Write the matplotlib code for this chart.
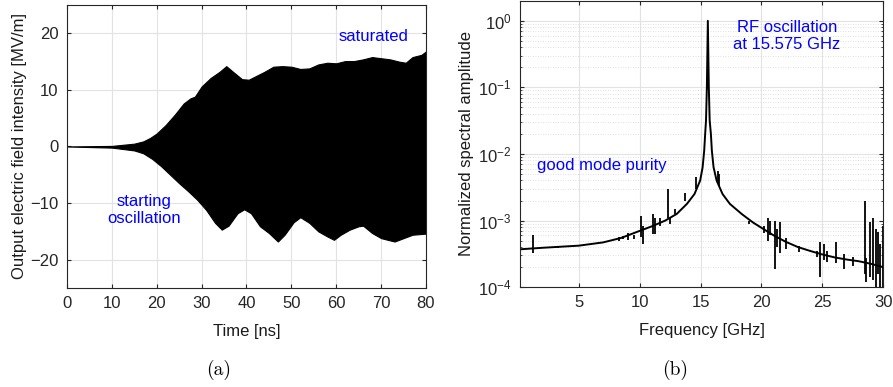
import numpy as np
import matplotlib
matplotlib.use("Agg")
import matplotlib.pyplot as plt
from matplotlib.ticker import LogLocator, NullFormatter

plt.rcParams['font.family'] = ['Liberation Sans', 'DejaVu Sans']
plt.rcParams['mathtext.fontset'] = 'custom'
plt.rcParams['mathtext.rm'] = 'Liberation Sans'
plt.rcParams['mathtext.it'] = 'Liberation Sans:italic'
plt.rcParams['mathtext.bf'] = 'Liberation Sans:bold'

# ---------------- data: panel (a) envelope of output field ----------------
t_upper = [0, 10, 15, 17, 18.5, 20, 22, 24, 26, 27.5, 28.5, 30, 32, 34, 35.5, 37, 39,
           40.5, 42, 44, 46, 48, 50, 52, 54, 56, 58, 60, 62, 64, 66, 68, 70, 72, 74,
           75.5, 77, 79, 80]
e_upper = [0, 0.1, 0.5, 0.9, 1.5, 2.3, 3.8, 5.6, 7.6, 8.5, 8.8, 10.6, 12.1, 13.2, 14.2,
           13.2, 11.9, 11.8, 12.4, 13.2, 14.1, 14.2, 14.1, 13.7, 13.8, 14.5, 14.8, 14.7,
           15.1, 15.1, 15.4, 15.8, 15.6, 15.4, 15.0, 14.8, 15.8, 16.2, 16.8]
t_lower = [0, 10, 15, 17, 19, 21, 23, 25, 27, 29, 31, 33, 34.5, 36, 38, 39.5, 41, 43,
           45, 47, 48.5, 50.5, 52, 54, 56, 58, 59.5, 61, 63, 65, 66, 68, 70, 73, 75,
           77, 80]
e_lower = [0, -0.2, -0.7, -1.2, -2.2, -3.5, -5.0, -6.5, -7.9, -9.4, -11.2, -13.5,
           -14.7, -14.0, -11.8, -11.1, -11.8, -14.1, -15.3, -16.8, -15.6, -13.4, -12.5,
           -13.5, -15.0, -15.9, -16.5, -15.6, -14.7, -14.1, -14.0, -15.3, -16.2, -16.8,
           -16.2, -15.6, -15.4]

# ---------------- data: panel (b) normalized spectrum ----------------
f_base = [0.15, 2, 5, 7, 8.5, 10, 11, 12.1, 13.05, 13.88, 14.5, 14.97, 15.17, 15.3,
          15.38, 15.45, 15.52, 15.6, 15.68, 15.75, 15.85, 15.93, 16.07, 16.32, 16.81,
          17.41, 18.37, 19.33, 20, 21, 22, 23, 24, 25, 26, 27, 28, 29, 30]
a_base = [3.7e-4, 3.9e-4, 4.2e-4, 4.7e-4, 5.5e-4, 7.0e-4, 8.2e-4, 1.0e-3, 1.26e-3,
          1.78e-3, 2.5e-3, 4.0e-3, 6.3e-3, 1.12e-2, 2.0e-2, 3.2e-2, 0.1, 1.0, 0.1,
          3.2e-2, 2.0e-2, 1.12e-2, 6.3e-3, 4.0e-3, 2.5e-3, 1.78e-3, 1.26e-3, 9.3e-4,
          7.8e-4, 6.0e-4, 4.8e-4, 4.0e-4, 3.5e-4, 3.1e-4, 2.8e-4, 2.6e-4, 2.45e-4,
          2.24e-4, 2.0e-4]
# spurious spectral lines: frequency, lower and upper amplitude
f_spur = [1.25, 3.3, 8.3, 8.6, 9.05, 9.5, 10.15, 10.3, 11.1, 11.3, 11.7, 12.3, 12.5,
          12.9, 13.7, 14.65, 16.4, 16.5, 19.0, 20.2, 20.55, 20.7, 21.1, 21.3, 21.55,
          22.0, 23.1, 24.6, 24.8, 25.1, 25.4, 26.1, 26.8, 27.5, 28.5, 28.6, 28.9, 29.2,
          29.4, 29.6, 29.75, 29.95]
a_spur_lo = [3.3e-4, 3.9e-4, 5.0e-4, 5.2e-4, 5.1e-4, 5.3e-4, 5.6e-4, 4.5e-4, 6.3e-4,
             6.3e-4, 8.4e-4, 1.1e-3, 9.0e-4, 1.25e-3, 2.0e-3, 3.0e-3, 3.5e-3, 3.3e-3,
             9.0e-4, 6.5e-4, 5.0e-4, 6.0e-4, 1.9e-4, 4.0e-4, 3.3e-4, 3.8e-4, 3.4e-4,
             2.8e-4, 1.4e-4, 2.6e-4, 2.4e-4, 2.3e-4, 1.9e-4, 2.1e-4, 1.6e-4, 1.2e-4,
             1.4e-4, 1.3e-4, 1.0e-4, 1.6e-4, 1.0e-4, 1.0e-4]
a_spur_hi = [6.0e-4, 4.1e-4, 5.6e-4, 5.9e-4, 6.6e-4, 6.0e-4, 1.18e-3, 8.4e-4, 1.25e-3,
             1.1e-3, 1.1e-3, 3.0e-3, 1.1e-3, 1.5e-3, 2.6e-3, 4.5e-3, 5.6e-3, 5.0e-3,
             1.0e-3, 8.4e-4, 1.1e-3, 1.0e-3, 1.0e-3, 7.5e-4, 9.4e-4, 5.4e-4, 4.2e-4,
             3.5e-4, 4.7e-4, 4.4e-4, 3.5e-4, 4.7e-4, 3.2e-4, 2.8e-4, 2.0e-3, 2.7e-4,
             9.4e-4, 1.1e-3, 7.5e-4, 6.7e-4, 4.5e-4, 8.4e-4]

# ---------------- figure ----------------
fig = plt.figure(figsize=(8.93, 3.87), dpi=100)
axA = fig.add_axes([0.075, 0.256, 0.402, 0.731])
axB = fig.add_axes([0.582, 0.258, 0.407, 0.740])

spine_c = '#262626'
grid_c = '#e3e3e3'
fs = 12

# panel (a)
tt = np.union1d(t_upper, t_lower)
up = np.interp(tt, t_upper, e_upper)
lo = np.interp(tt, t_lower, e_lower)
axA.fill_between(tt, lo, up, color='black', lw=0.8, edgecolor='black')
axA.set_xlim(0, 80)
axA.set_ylim(-25, 25)
axA.set_xticks(np.arange(0, 81, 10))
axA.set_yticks([-20, -10, 0, 10, 20])
axA.grid(True, color=grid_c, lw=0.8)
axA.set_axisbelow(True)
axA.set_xlabel('Time [ns]', fontsize=12, color='#1a1a1a', labelpad=9)
axA.set_ylabel('Output electric field intensity [MV/m]', fontsize=12, color='#1a1a1a', labelpad=2)
axA.text(60.6, 19.4, 'saturated', color='#0000ff', fontsize=fs, ha='left', va='center')
axA.text(17.2, -11.2, 'starting\noscillation', color='#0000ff', fontsize=fs,
         ha='center', va='center', linespacing=1.2)

# panel (b)
axB.semilogy(f_base, a_base, color='black', lw=1.4)
axB.vlines(f_spur, a_spur_lo, a_spur_hi, color='black', lw=1.3)
axB.set_xlim(0.15, 30)
axB.set_ylim(1e-4, 2)
axB.set_xticks([5, 10, 15, 20, 25, 30])
axB.yaxis.set_major_locator(LogLocator(base=10, numticks=10))
axB.yaxis.set_minor_locator(LogLocator(base=10, subs=np.arange(2, 10), numticks=20))
axB.yaxis.set_minor_formatter(NullFormatter())
axB.grid(True, which='major', color=grid_c, lw=0.8)
axB.grid(True, which='minor', axis='y', color='#d8d8d8', lw=0.6, ls=(0, (1, 2)))
axB.set_axisbelow(True)
axB.set_xlabel('Frequency [GHz]', fontsize=12, color='#1a1a1a', labelpad=9)
axB.set_ylabel('Normalized spectral amplitude', fontsize=12, color='#1a1a1a', labelpad=3)
axB.text(22.1, 10 ** -0.23, 'RF oscillation\nat 15.575 GHz', color='#0000ff', fontsize=fs,
         ha='center', va='center', linespacing=1.2)
axB.text(1.57, 6.7e-3, 'good mode purity', color='#0000ff', fontsize=fs,
         ha='left', va='center')

for ax in (axA, axB):
    for s in ax.spines.values():
        s.set_color(spine_c)
        s.set_linewidth(0.8)
    ax.tick_params(which='both', direction='in', colors=spine_c, labelsize=fs,
                   labelcolor='#262626', top=True, right=True)
    ax.tick_params(which='major', length=3, pad=6)
    ax.tick_params(which='minor', length=1.5)

fig.text(219 / 893, 1 - 370 / 387, '(a)', fontfamily='cmr10', fontsize=14, ha='center', va='center')
fig.text(675 / 893, 1 - 370 / 387, '(b)', fontfamily='cmr10', fontsize=14, ha='center', va='center')

fig.savefig('out.png', dpi=100)
